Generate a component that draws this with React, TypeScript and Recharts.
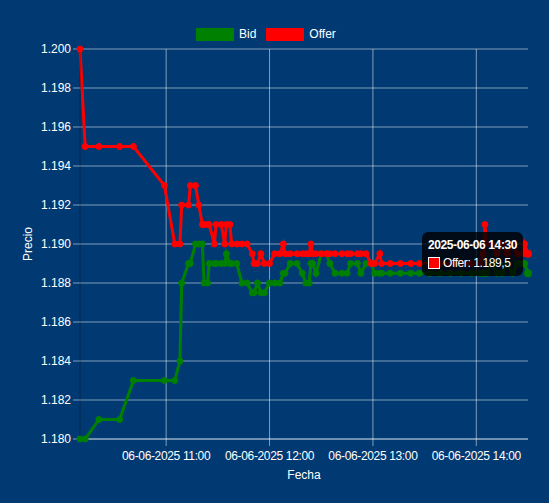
import React from "react";
import {
  CartesianGrid,
  Line,
  LineChart,
  Tooltip,
  XAxis,
  YAxis,
} from "recharts";

const times = [
  "10:10", "10:13", "10:21", "10:33", "10:41", "10:59", "11:05", "11:08",
  "11:09", "11:13", "11:14", "11:17", "11:19", "11:21", "11:22", "11:24",
  "11:25", "11:28", "11:29", "11:32", "11:34", "11:35", "11:37", "11:38",
  "11:41", "11:44", "11:47", "11:50", "11:51", "11:53", "11:55", "11:57",
  "12:00", "12:03", "12:06", "12:08", "12:09", "12:12", "12:16", "12:19",
  "12:21", "12:23", "12:24", "12:25", "12:27", "12:30", "12:33", "12:35",
  "12:38", "12:42", "12:45", "12:47", "12:51", "12:53", "12:56", "12:59",
  "13:01", "13:04", "13:05", "13:10", "13:16", "13:22", "13:27", "13:33",
  "13:39", "13:45", "13:51", "13:57", "14:02", "14:04", "14:05", "14:06",
  "14:09", "14:12", "14:15", "14:18", "14:21", "14:24", "14:27", "14:28",
  "14:30",
];

const bid = [
  1180, 1180, 1181, 1181, 1183, 1183, 1183, 1184,
  1188, 1189, 1189, 1190, 1190, 1190, 1188, 1188,
  1189, 1189, 1189, 1189, 1189, 1189.5, 1189, 1189,
  1189, 1188, 1188, 1187.5, 1187.5, 1188, 1187.5, 1187.5,
  1188, 1188, 1188, 1188.5, 1188.5, 1189, 1189, 1188.5,
  1188, 1188, 1189, 1189, 1188.5, 1189.5, 1189.5, 1189,
  1188.5, 1188.5, 1188.5, 1189, 1189, 1188.5, 1189, 1189,
  1188.5, 1188.5, 1188.5, 1188.5, 1188.5, 1188.5, 1188.5, 1188.5,
  1188.5, 1188.5, 1188.5, 1188.5, 1188.5, 1188.5, 1188.5, 1188.5,
  1189, 1188.5, 1188.5, 1189, 1188.5, 1189, 1189, 1189,
  1188.5,
];

const offer = [
  1200, 1195, 1195, 1195, 1195, 1193, 1190, 1190,
  1192, 1192, 1193, 1193, 1192, 1191, 1191, 1191,
  1191, 1190, 1191, 1191, 1190, 1191, 1191, 1190,
  1190, 1190, 1190, 1189.5, 1189, 1189, 1189.5, 1189,
  1189, 1189.5, 1189.5, 1190, 1189.5, 1189.5, 1189.5, 1189.5,
  1189.5, 1189.5, 1190, 1189.5, 1189.5, 1189.5, 1189.5, 1189.5,
  1189.5, 1189.5, 1189.5, 1189.5, 1189.5, 1189.5, 1189.5, 1189,
  1189, 1189.5, 1189, 1189, 1189, 1189, 1189, 1189,
  1189, 1189, 1189, 1189, 1189, 1189.5, 1191, 1190,
  1190, 1189.5, 1190, 1189.5, 1190, 1189.5, 1189.5, 1190,
  1189.5,
];

const hourTicks = ["11:00", "12:00", "13:00", "14:00"];
const priceTicks = [1180, 1182, 1184, 1186, 1188, 1190, 1192, 1194, 1196, 1198, 1200];
const dateLabel = "06-06-2025";
const isoDate = "2025-06-06";

const BG = "#013a73";
const GRID = "rgba(255,255,255,0.5)";
const GREEN = "#008000";
const RED = "#ff0000";
const FONT = "'Liberation Sans', Arial, sans-serif";

const toMin = (s: string) => {
  const [h, m] = s.split(":").map(Number);
  return h * 60 + m;
};

const fmtPrice = (v: number) => {
  const [i, d] = (Number.isInteger(v) ? v.toFixed(0) : v.toFixed(1)).split(".");
  const int = i.replace(/\B(?=(\d{3})+(?!\d))/g, ".");
  return d ? `${int},${d}` : int;
};

const fmtTime = (m: number) => {
  const h = String(Math.floor(m / 60)).padStart(2, "0");
  const mm = String(m % 60).padStart(2, "0");
  return `${h}:${mm}`;
};

const data = times.map((t, i) => ({
  t: toMin(t),
  label: t,
  bid: bid[i],
  offer: offer[i],
}));

const xDomain = [toMin(times[0]), toMin(times[times.length - 1])];

const series = [
  { key: "bid", name: "Bid", color: GREEN },
  { key: "offer", name: "Offer", color: RED },
];

// grid lines only at the hour ticks, placed with the x axis scale
const hourLines = ({ xAxis, offset }: any) => {
  const vals = hourTicks.map(toMin);
  if (xAxis && typeof xAxis.scale === "function") {
    return vals.map((v) => xAxis.scale(v));
  }
  return vals.map(
    (v) => offset.left + ((v - xDomain[0]) / (xDomain[1] - xDomain[0])) * offset.width
  );
};

function OfferTip({ active, payload }: any) {
  if (!active || !payload || !payload.length) return null;
  const row = payload[0].payload;
  return (
    <div
      style={{
        background: "rgba(0,0,0,0.8)",
        borderRadius: 6,
        padding: "6px 6px",
        color: "#fff",
        fontFamily: FONT,
        fontSize: 12,
        lineHeight: "14px",
        letterSpacing: "-0.4px",
        whiteSpace: "nowrap",
      }}
    >
      <div style={{ fontWeight: "bold", marginBottom: 4 }}>
        {isoDate} {row.label}
      </div>
      <div style={{ display: "flex", alignItems: "center" }}>
        <span
          style={{
            display: "inline-block",
            width: 10,
            height: 10,
            background: RED,
            border: "1px solid #fff",
            marginRight: 3,
          }}
        />
        Offer: {fmtPrice(row.offer)}
      </div>
    </div>
  );
}

export default function App() {
  const tick = { fill: "#fff", fontSize: 12, fontFamily: FONT };
  return (
    <div
      style={{
        position: "absolute",
        left: 0,
        top: 0,
        width: 549,
        height: 503,
        background: BG,
        fontFamily: FONT,
      }}
    >
      <div
        style={{
          position: "absolute",
          left: 196,
          top: 27,
          display: "flex",
          alignItems: "center",
          color: "#fff",
          fontSize: 12,
          zIndex: 2,
        }}
      >
        {series.map((s) => (
          <div key={s.key} style={{ display: "flex", alignItems: "center", marginRight: 10 }}>
            <span style={{ width: 38, height: 13, background: s.color, display: "inline-block", marginRight: 5 }} />
            <span>{s.name}</span>
          </div>
        ))}
      </div>
      <LineChart
        width={549}
        height={503}
        data={data}
        margin={{ top: 49, right: 21, bottom: 0, left: 0 }}
      >
        <CartesianGrid
          stroke={GRID}
          strokeWidth={1}
          verticalCoordinatesGenerator={hourLines}
        />
        <XAxis
          dataKey="t"
          type="number"
          domain={xDomain}
          ticks={hourTicks.map(toMin)}
          interval={0}
          tickFormatter={(v: number) => `${dateLabel} ${fmtTime(v)}`}
          height={64}
          tick={{ ...tick, letterSpacing: "-0.35px" }}
          tickSize={7}
          tickMargin={5}
          stroke={GRID}
          axisLine={{ stroke: GRID }}
          tickLine={{ stroke: GRID }}
          label={{
            value: "Fecha",
            position: "insideBottom",
            offset: 24,
            fill: "#fff",
            fontSize: 12,
            fontFamily: FONT,
          }}
        />
        <YAxis
          domain={[1180, 1200]}
          ticks={priceTicks}
          interval={0}
          tickFormatter={fmtPrice}
          width={80}
          tick={tick}
          tickSize={7}
          tickMargin={2}
          axisLine={{ stroke: "rgba(0,0,0,0.3)" }}
          tickLine={{ stroke: GRID }}
          label={{
            value: "Precio",
            angle: -90,
            position: "insideLeft",
            offset: 28,
            fill: "#fff",
            fontSize: 12,
            fontFamily: FONT,
            style: { textAnchor: "middle" },
          }}
        />
        <Tooltip
          content={<OfferTip />}
          active={true}
          defaultIndex={data.length - 1}
          position={{ x: 422, y: 232 }}
          cursor={false}
          isAnimationActive={false}
        />
        {series.map((s) => (
          <Line
            key={s.key}
            type="linear"
            dataKey={s.key}
            name={s.name}
            stroke={s.color}
            strokeWidth={3}
            dot={{ r: 3, fill: s.color, stroke: s.color, strokeWidth: 1 }}
            activeDot={{ r: 3, fill: s.color, stroke: s.color }}
            isAnimationActive={false}
          />
        ))}
      </LineChart>
    </div>
  );
}
